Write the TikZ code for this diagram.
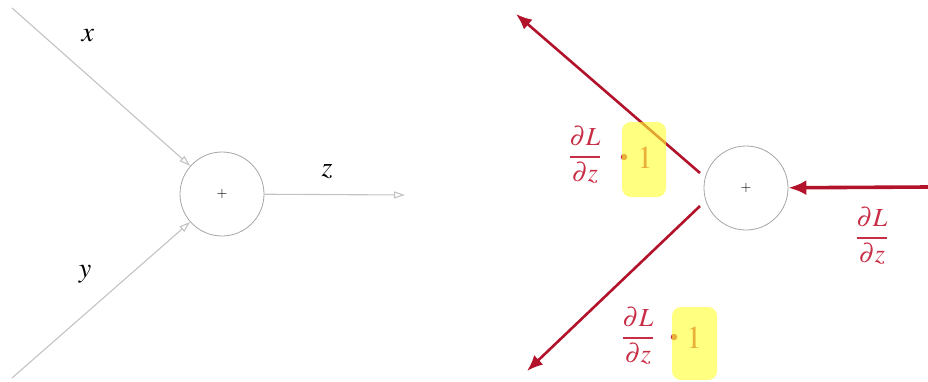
\documentclass[tikz,border=0pt]{standalone}
\usepackage{mathptmx}
\usetikzlibrary{arrows.meta}
\definecolor{gradred}{RGB}{178,18,42}
\definecolor{labred}{RGB}{200,45,70}
\definecolor{hiyellow}{RGB}{255,255,50}
\definecolor{fwdgray}{RGB}{195,195,195}
\definecolor{circgray}{RGB}{165,165,165}
\tikzset{
  opnode/.style={circle,draw=circgray,line width=0.8pt,minimum size=84pt,inner sep=0pt,font=\fontsize{14}{16}\selectfont},
  fwd/.style={draw=fwdgray,line width=1.1pt,-{Triangle[open,length=11pt,width=7pt]}},
  bwd/.style={draw=gradred,line width=2.6pt,-{Latex[length=16pt,width=13pt]}},
  bwdin/.style={draw=gradred,line width=3.6pt,-{Latex[length=18pt,width=15pt]}},
  lab/.style={inner sep=0pt,font=\fontsize{28}{32}\selectfont},
  glab/.style={inner sep=0pt,text=labred,font=\fontsize{26}{32}\selectfont},
  onelab/.style={inner sep=0pt,text=labred,font=\fontsize{32}{36}\selectfont},
  hibox/.style={fill=hiyellow,fill opacity=0.62,rounded corners=9pt,draw=none},
  gdot/.style={circle,fill=labred,inner sep=0pt,minimum size=6.5pt},
}
\begin{document}
\begin{tikzpicture}[x=1pt,y=-1pt]
\useasboundingbox (0,0) rectangle (928,381);
% forward pass
\node[opnode] (c1) at (222,194) {$+$};
\coordinate (xs) at (12,8);
\coordinate (ys) at (12,378);
\coordinate (zend) at (405,195);
\draw[fwd] (xs) -- (c1);
\draw[fwd] (ys) -- (c1);
\draw[fwd] (c1) -- (zend);
\node[lab] (xl) at (88,36) {$x$};
\node[lab] (yl) at (85,274) {$y$};
\node[lab] (zl) at (327,172) {$z$};
% backward pass
\node[opnode] (c2) at (746,188) {$+$};
\coordinate (rin) at (928,187);
\coordinate (ts) at (700,173);
\coordinate (te) at (516,14);
\coordinate (bs) at (700,206);
\coordinate (be) at (527,371);
\draw[bwdin] (rin) -- (c2);
\draw[bwd] (ts) -- (te);
\draw[bwd] (bs) -- (be);
\node[glab] (f1) at (585,155) {$\displaystyle\frac{\partial L}{\partial z}$};
\node[gdot] (d1) at (624,157) {};
\node[onelab] (o1) at (645,158) {$1$};
\node[glab] (f2) at (638,336) {$\displaystyle\frac{\partial L}{\partial z}$};
\node[gdot] (d2) at (674,337) {};
\node[onelab] (o2) at (694,338) {$1$};
\node[glab] (f3) at (872,236) {$\displaystyle\frac{\partial L}{\partial z}$};
\fill[hibox] (622,122) rectangle (666,197);
\fill[hibox] (672,307) rectangle (717,380);
\end{tikzpicture}
\end{document}
